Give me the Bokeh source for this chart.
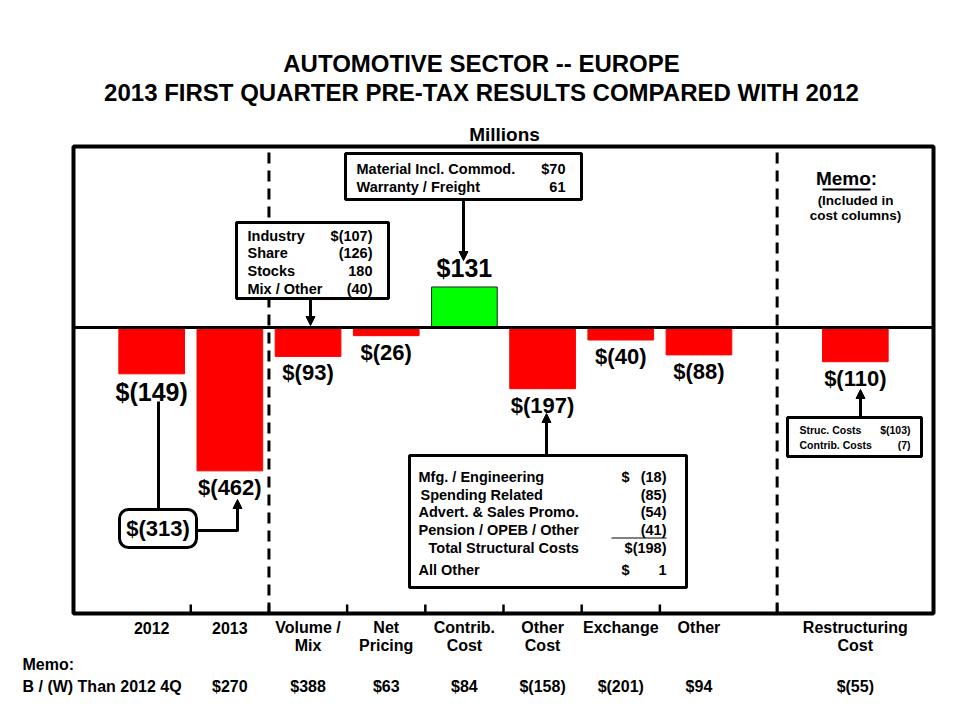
import numpy as np
from bokeh.plotting import figure
from bokeh.models import (Range1d, Label, ColumnDataSource, BoxAnnotation, Arrow, NormalHead)
from bokeh.embed import file_html
from bokeh.resources import INLINE
from bokeh.core.properties import value

# ---------------- data ----------------
categories_line1 = ["2012", "2013", "Volume /", "Net", "Contrib.", "Other", "Exchange", "Other", "Restructuring"]
categories_line2 = ["", "", "Mix", "Pricing", "Cost", "Cost", "", "", "Cost"]
cat_pos = [0, 1, 2, 3, 4, 5, 6, 7, 9]
results = [-149, -462, -93, -26, 131, -197, -40, -88, -110]
memo_vs_2012_4q = [None, 270, 388, 63, 84, -158, -201, 94, -55]
divider_pos = [1.5, 8]
tick_pos = [0.5, 1.5, 2.5, 3.5, 4.5, 5.5, 6.5, 8]
change_2012_2013 = -313

vol_items = ["Industry", "Share", "Stocks", "Mix / Other"]
vol_vals = ["$(107)", "(126)", "180", "(40)"]
contrib_items = ["Material Incl. Commod.", "Warranty / Freight"]
contrib_vals = ["$70", "61"]
other_items = ["Mfg. / Engineering", "Spending Related", "Advert. & Sales Promo.",
               "Pension / OPEB / Other", "Total Structural Costs", "All Other"]
other_vals = ["(18)", "(85)", "(54)", "(41)", "$(198)", "1"]
restr_items = ["Struc. Costs", "Contrib. Costs"]
restr_vals = ["$(103)", "(7)"]

title1 = "AUTOMOTIVE SECTOR -- EUROPE"
title2 = "2013 FIRST QUARTER PRE-TAX RESULTS COMPARED WITH 2012"
units = "Millions"

# style: font size of each bar's value label
bar_label_px = ["25px", "22px", "22px", "22px", "25px", "22px", "22px", "22px", "22px"]

# ---------------- geometry ----------------
W, H = 960, 720
FL, FR, FT, FB = 73, 933, 146, 613          # chart panel edges (px)
PX0, PX1 = -1.0, 10.0                       # panel x extent (data)
PY0, PY1 = -922.0, 584.0                    # panel y extent (data)
KX = (PX1 - PX0) / (FR - FL)                # data per px
KY = (PY1 - PY0) / (FB - FT)


def X(px):
    return PX0 + (px - FL) * KX


def Y(py):
    return PY1 - (py - FT) * KY


BOLD = "Liberation Sans"


def fmt(v):
    return "$(%d)" % abs(v) if v < 0 else "$%d" % v


p = figure(width=W, height=H, x_range=Range1d(X(0), X(W)), y_range=Range1d(Y(H), Y(0)),
           output_backend="svg", toolbar_location=None,
           x_axis_type=None, y_axis_type=None,
           min_border=0)
p.outline_line_color = None
p.background_fill_color = "white"
p.border_fill_color = "white"

# dividers (dashed)
p.segment(x0=divider_pos, y0=[PY0] * 2, x1=divider_pos, y1=[PY1] * 2,
          line_color="black", line_width=3, line_dash="11 7")

# tick marks on bottom edge
p.segment(x0=tick_pos, y0=[PY0] * len(tick_pos), x1=tick_pos,
          y1=[PY0 + 9 * KY] * len(tick_pos), line_color="black", line_width=2.5)

# bars
colors = ["#00FF00" if v > 0 else "#FF0000" for v in results]
lines = ["#222222" if v > 0 else "#FF0000" for v in results]
src = ColumnDataSource(dict(x=cat_pos, top=results, color=colors, lc=lines,
                            ty=[v + 5 * KY if v > 0 else v - 4 * KY for v in results],
                            base=["bottom" if v > 0 else "top" for v in results],
                            txt=[fmt(v) for v in results], fs=bar_label_px))
p.vbar(x="x", top="top", bottom=0, width=0.84, fill_color="color", line_color="lc",
       line_width=1, source=src)
p.segment(x0=[PX0], y0=[0], x1=[PX1], y1=[0], line_color="black", line_width=3)
p.text(x="x", y="ty", text="txt", text_baseline="base", text_align="center",
       text_font=value(BOLD), text_font_style="bold", text_font_size="fs",
       text_color="black", source=src)

# panel frame
p.quad(left=[PX0], right=[PX1], bottom=[PY0], top=[PY1], fill_color=None,
       line_color="black", line_width=4)

# category labels under the panel
csrc = ColumnDataSource(dict(x=cat_pos, l1=categories_line1, l2=categories_line2,
                             y1=[Y(627)] * len(cat_pos), y2=[Y(645)] * len(cat_pos)))
for col, yy in (("l1", "y1"), ("l2", "y2")):
    p.text(x="x", y=yy, text=col, text_align="center", text_baseline="middle",
           text_font=value(BOLD), text_font_style="bold", text_font_size="16px",
           text_color="black", source=csrc)

# memo row
mx = [c for c, m in zip(cat_pos, memo_vs_2012_4q) if m is not None]
mt = [fmt(m) for m in memo_vs_2012_4q if m is not None]
msrc = ColumnDataSource(dict(x=mx, y=[Y(686)] * len(mx), t=mt))
p.text(x="x", y="y", text="t", text_align="center", text_baseline="middle",
       text_font=value(BOLD), text_font_style="bold", text_font_size="16px",
       text_color="black", source=msrc)


def lab(px, py, text, size, align="center", baseline="middle", style="bold"):
    p.add_layout(Label(x=X(px), y=Y(py), text=text, text_align=align,
                       text_baseline=baseline, text_font=BOLD, text_font_style=style,
                       text_font_size="%spx" % size, text_color="black"))


def box(l, r, t, b, lw=3, radius=0):
    p.add_layout(BoxAnnotation(left=X(l), right=X(r), top=Y(t), bottom=Y(b),
                               fill_color="white", fill_alpha=1.0, line_color="black",
                               line_alpha=1.0, line_width=lw, border_radius=radius))


def arrow(x0, y0, x1, y1):
    p.add_layout(Arrow(x_start=X(x0), y_start=Y(y0), x_end=X(x1), y_end=Y(y1),
                       line_width=3, line_color="black",
                       end=NormalHead(size=9, fill_color="black", line_color="black")))


lab(22, 664, "Memo:", 16, align="left")
lab(22, 686, "B / (W) Than 2012 4Q", 16, align="left")

# titles
lab(481, 63, title1, 24)
lab(481, 92, title2, 24)
lab(504, 134, units, 19)

# Volume / Mix callout
box(236, 388, 222, 298)
for i, (t, v) in enumerate(zip(vol_items, vol_vals)):
    lab(247, 235 + i * 17.7, t, 14.5, align="left")
    lab(372, 235 + i * 17.7, v, 14.5, align="right")
arrow(310, 298, 310, 325)

# Contrib. cost callout
box(345, 581, 153, 199)
for i, (t, v) in enumerate(zip(contrib_items, contrib_vals)):
    lab(356, 168 + i * 18, t, 14.5, align="left")
    lab(565, 168 + i * 18, v, 14.5, align="right")
arrow(463, 199, 463, 260)

# Other cost callout
box(409, 686, 455, 587)
oy = [476, 494, 511, 529, 547, 569]
ox = [418, 420, 418, 418, 428, 418]
for t, v, yy, xx in zip(other_items, other_vals, oy, ox):
    lab(xx, yy, t, 14.5, align="left")
    lab(666, yy, v, 14.5, align="right")
lab(621, oy[0], "$", 14.5, align="left")
lab(621, oy[5], "$", 14.5, align="left")
arrow(546, 455, 546, 413)

# Restructuring callout
box(787, 921, 417, 456)
for i, (t, v) in enumerate(zip(restr_items, restr_vals)):
    lab(799, 429 + i * 15, t, 10.5, align="left")
    lab(910, 429 + i * 15, v, 10.5, align="right")
arrow(860, 417, 860, 389)

# Memo note
lab(846, 178, "Memo:", 19)
lab(855, 200, "(Included in", 13.5)
lab(855, 215, "cost columns)", 13.5)

# 2012 -> 2013 change
p.segment(x0=[X(158)], y0=[Y(401)], x1=[X(158)], y1=[Y(509)], line_color="black", line_width=3)
p.segment(x0=[X(196)], y0=[Y(530)], x1=[X(237)], y1=[Y(530)], line_color="black", line_width=3)
arrow(237, 531, 237, 499)
box(119, 196, 509, 547, lw=3, radius=9)
lab(157.5, 528, fmt(change_2012_2013), 22)

# underlines (drawn as annotations so they sit above the boxes)
p.add_layout(Arrow(x_start=X(611), y_start=Y(537.5), x_end=X(666), y_end=Y(537.5),
                   line_width=1, line_color="black", end=None))
p.add_layout(Arrow(x_start=X(822), y_start=Y(189), x_end=X(870), y_end=Y(189),
                   line_width=2, line_color="black", end=None))

open("out.html", "w").write(file_html(p, INLINE))
